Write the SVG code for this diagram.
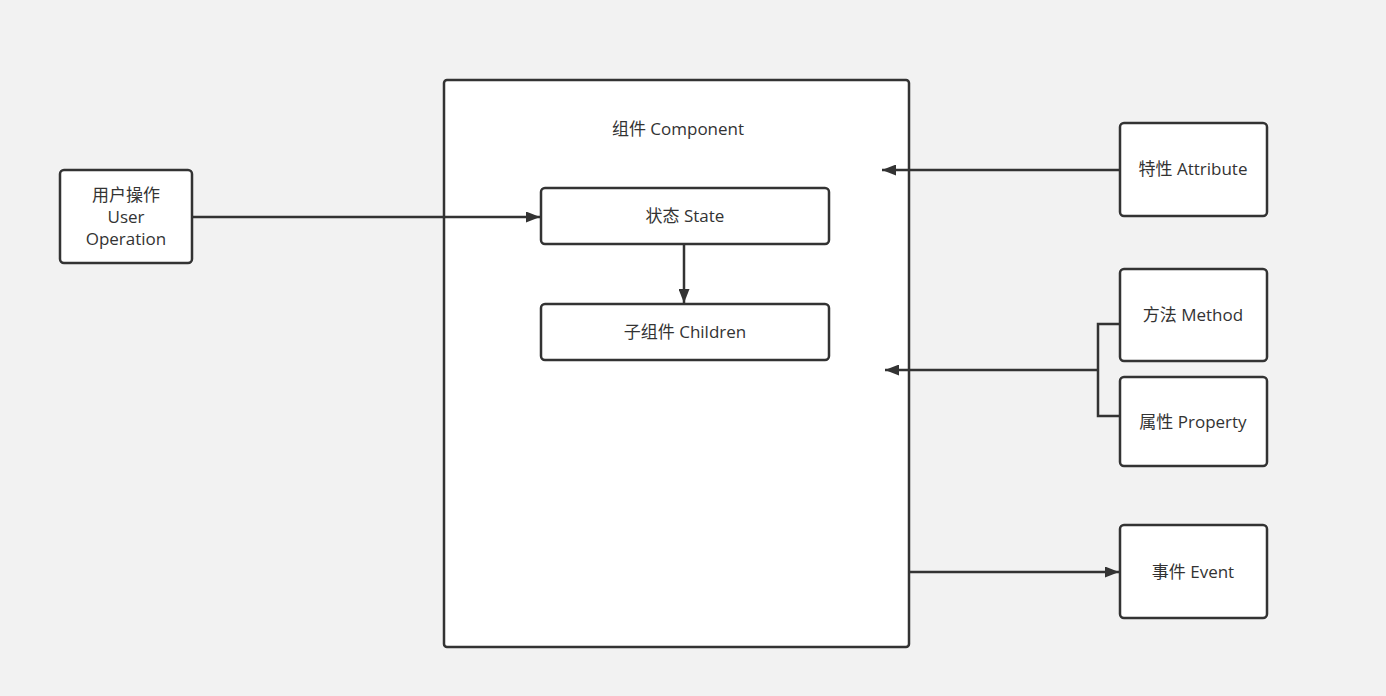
<svg xmlns="http://www.w3.org/2000/svg" width="1386" height="696" viewBox="0 0 1386 696">
<defs>
<marker id="arr" markerWidth="14" markerHeight="11" refX="14" refY="5.5" orient="auto" markerUnits="userSpaceOnUse">
<path d="M0,0 L14,5.5 L0,11 Z" fill="#333"/>
</marker>
<style>
.box{fill:#fff;stroke:#333;stroke-width:2.5}
.t{font-family:"Open Sans","Noto Sans CJK SC",sans-serif;font-size:17px;fill:#333;text-anchor:middle}
.c{fill:none;stroke:#333;stroke-width:2.5}
</style>
</defs>
<rect x="0" y="0" width="1386" height="696" fill="#f2f2f2"/>
<g id="component">
<rect class="box" x="444" y="80" width="465" height="567" rx="3"/>
<text class="t" x="678" y="135">组件 Component</text>
</g>
<g id="user-op">
<rect class="box" x="60" y="170" width="132" height="93" rx="4"/>
<text class="t" x="126" y="201">用户操作</text>
<text class="t" x="126" y="223">User</text>
<text class="t" x="126" y="245">Operation</text>
</g>
<g id="state">
<rect class="box" x="541" y="188" width="288" height="56" rx="4"/>
<text class="t" x="685" y="222">状态 State</text>
</g>
<g id="children">
<rect class="box" x="541" y="304" width="288" height="56" rx="4"/>
<text class="t" x="685" y="338">子组件 Children</text>
</g>
<g id="attribute">
<rect class="box" x="1120" y="123" width="147" height="93" rx="4"/>
<text class="t" x="1193" y="175">特性 Attribute</text>
</g>
<g id="method">
<rect class="box" x="1120" y="269" width="147" height="92" rx="4"/>
<text class="t" x="1193" y="321">方法 Method</text>
</g>
<g id="property">
<rect class="box" x="1120" y="377" width="147" height="89" rx="4"/>
<text class="t" x="1193" y="428">属性 Property</text>
</g>
<g id="event">
<rect class="box" x="1120" y="525" width="147" height="93" rx="4"/>
<text class="t" x="1193" y="578">事件 Event</text>
</g>
<g id="connectors">
<path class="c" d="M192,217 L540,217" marker-end="url(#arr)"/>
<path class="c" d="M684,244 L684,303" marker-end="url(#arr)"/>
<path class="c" d="M1120,170 L882,170" marker-end="url(#arr)"/>
<path class="c" d="M1120,324 L1098,324 L1098,416 L1120,416"/>
<path class="c" d="M1098,370 L885,370" marker-end="url(#arr)"/>
<path class="c" d="M909,572 L1119,572" marker-end="url(#arr)"/>
</g>
</svg>
